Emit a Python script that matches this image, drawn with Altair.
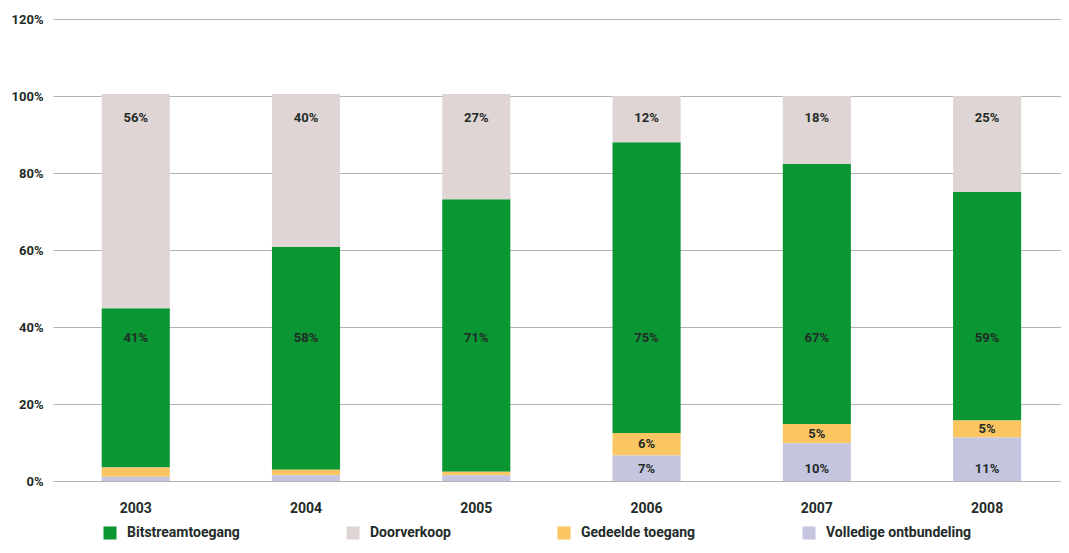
import altair as alt
import pandas as pd

years = ["2003", "2004", "2005", "2006", "2007", "2008"]
series = ["Bitstreamtoegang", "Doorverkoop", "Gedeelde toegang", "Volledige ontbundeling"]
colors = ["#0a9632", "#e0d5d5", "#fbc562", "#c5c5e0"]

bitstream = [41.4, 57.9, 70.8, 75.5, 67.6, 59.4]
doorverkoop = [55.6, 39.7, 27.3, 12.0, 17.6, 24.9]
gedeeld = [2.4, 1.4, 0.9, 5.9, 5.0, 4.4]
volledig = [1.1, 1.5, 1.5, 6.6, 9.8, 11.3]

bitstream_lbl = ["41%", "58%", "71%", "75%", "67%", "59%"]
doorverkoop_lbl = ["56%", "40%", "27%", "12%", "18%", "25%"]
gedeeld_lbl = ["", "", "", "6%", "5%", "5%"]
volledig_lbl = ["", "", "", "7%", "10%", "11%"]

# stacking order from bottom
stack_rank = {"Volledige ontbundeling": 0, "Gedeelde toegang": 1,
              "Bitstreamtoegang": 2, "Doorverkoop": 3}

rows = []
for i, y in enumerate(years):
    for s, vals, lbls in [
        ("Bitstreamtoegang", bitstream, bitstream_lbl),
        ("Doorverkoop", doorverkoop, doorverkoop_lbl),
        ("Gedeelde toegang", gedeeld, gedeeld_lbl),
        ("Volledige ontbundeling", volledig, volledig_lbl),
    ]:
        rows.append({"jaar": y, "reeks": s, "waarde": vals[i], "label": lbls[i],
                     "rank": stack_rank[s]})
df = pd.DataFrame(rows)

# label anchors (in data units) as in the original figure
anchor = {"Doorverkoop": 94.3, "Bitstreamtoegang": 37.1, "Volledige ontbundeling": 3.1}
ypos = []
for r in rows:
    if r["reeks"] == "Gedeelde toegang":
        i = years.index(r["jaar"])
        ypos.append(volledig[i] + gedeeld[i] / 2)
    else:
        ypos.append(anchor[r["reeks"]])
df["ypos"] = ypos

FONT = "Roboto"
TXT = "#232b28"

x_enc = alt.X("jaar:N", sort=years, title=None,
              scale=alt.Scale(paddingInner=0.6, paddingOuter=0.26, align=0.55),
              axis=alt.Axis(labelAngle=0, ticks=False, domain=False, labelPadding=20,
                            labelFontSize=14, labelFontWeight="bold", labelColor=TXT,
                            labelFont=FONT))

bars = alt.Chart(df).mark_bar(stroke=None).encode(
    x=x_enc,
    y=alt.Y("waarde:Q", stack="zero", title=None,
            scale=alt.Scale(domain=[0, 120], nice=False),
            axis=alt.Axis(values=[0, 20, 40, 60, 80, 100, 120], labelExpr="datum.value + '%'",
                          ticks=False, domain=False, labelPadding=10, grid=True,
                          gridColor="#b3b3b3", gridWidth=1.2, labelFontSize=13,
                          labelFontWeight="bold", labelColor=TXT, labelFont=FONT)),
    color=alt.Color("reeks:N", title=None,
                    scale=alt.Scale(domain=series, range=colors),
                    legend=alt.Legend(orient="none", legendX=50, legendY=507,
                                      direction="horizontal",
                                      symbolType="square", symbolSize=170,
                                      symbolStrokeWidth=0, labelFontSize=14,
                                      labelFontWeight="bold", labelColor=TXT,
                                      labelFont=FONT, columnPadding=106,
                                      labelOffset=10, padding=0, labelLimit=0)),
    order=alt.Order("rank:Q", sort="ascending"),
)

texts = alt.Chart(df).mark_text(fontSize=13, fontWeight="bold", color=TXT,
                                font=FONT, baseline="middle").encode(
    x=alt.X("jaar:N", sort=years),
    y=alt.Y("ypos:Q"),
    text="label:N",
)

chart = (bars + texts).properties(
    width=1008, height=462,
    padding={"left": 45, "top": 11, "right": 0, "bottom": 62},
    autosize=alt.AutoSizeParams(type="none"),
).configure_view(stroke=None).configure_axisY(gridDash=[])

chart.save("out.html", embed_options={"renderer": "svg", "actions": False})
